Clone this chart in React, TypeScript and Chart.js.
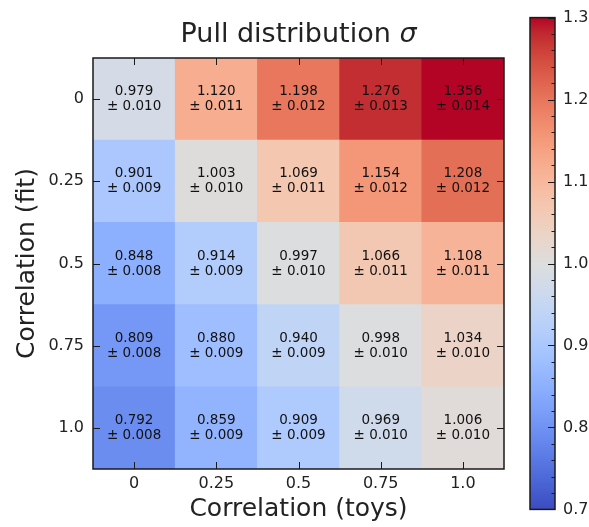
import React, { useEffect, useRef } from 'react';
import { Chart, registerables } from 'chart.js';

Chart.register(...registerables);

const W = 589;
const H = 527;
const FONT = '"DejaVu Sans", "Liberation Sans", sans-serif';
const TEXT = '#222222';

// ---------- data ----------
const toysLabels = ['0', '0.25', '0.5', '0.75', '1.0'];
const fitLabels = ['0', '0.25', '0.5', '0.75', '1.0']; // top to bottom

const sigmaFit0 = [0.979, 1.12, 1.198, 1.276, 1.356];
const sigmaFit025 = [0.901, 1.003, 1.069, 1.154, 1.208];
const sigmaFit05 = [0.848, 0.914, 0.997, 1.066, 1.108];
const sigmaFit075 = [0.809, 0.88, 0.94, 0.998, 1.034];
const sigmaFit1 = [0.792, 0.859, 0.909, 0.969, 1.006];

const errFit0 = [0.01, 0.011, 0.012, 0.013, 0.014];
const errFit025 = [0.009, 0.01, 0.011, 0.012, 0.012];
const errFit05 = [0.008, 0.009, 0.01, 0.011, 0.011];
const errFit075 = [0.008, 0.009, 0.009, 0.01, 0.01];
const errFit1 = [0.008, 0.009, 0.009, 0.01, 0.01];

const sigmaRows = [sigmaFit0, sigmaFit025, sigmaFit05, sigmaFit075, sigmaFit1];
const errRows = [errFit0, errFit025, errFit05, errFit075, errFit1];

const cbMin = 0.7;
const cbMax = 1.3;
const cbTicks = [0.7, 0.8, 0.9, 1.0, 1.1, 1.2, 1.3];

const titleText = 'Pull distribution ';
const titleSymbol = 'σ';
const xTitle = 'Correlation (toys)';
const yTitle = 'Correlation (fit)';

// coolwarm (Moreland) control points
const COOLWARM = [
  [59, 76, 192], [68, 90, 204], [77, 104, 215], [87, 117, 225], [98, 130, 234],
  [108, 142, 241], [119, 154, 247], [130, 165, 251], [141, 176, 254], [152, 185, 255],
  [163, 194, 255], [174, 201, 253], [184, 208, 249], [194, 213, 244], [204, 217, 238],
  [213, 219, 230], [221, 221, 221], [229, 216, 209], [236, 211, 197], [241, 204, 185],
  [245, 196, 173], [247, 187, 160], [247, 177, 148], [247, 166, 135], [244, 154, 123],
  [241, 141, 111], [236, 127, 99], [229, 112, 88], [222, 96, 77], [213, 80, 66],
  [203, 62, 56], [192, 40, 47], [180, 4, 38],
];

function coolwarm(t: number): string {
  const c = Math.max(0, Math.min(1, t));
  const x = c * (COOLWARM.length - 1);
  const i = Math.min(COOLWARM.length - 2, Math.floor(x));
  const f = x - i;
  const a = COOLWARM[i];
  const b = COOLWARM[i + 1];
  const r = Math.round(a[0] + (b[0] - a[0]) * f);
  const g = Math.round(a[1] + (b[1] - a[1]) * f);
  const bl = Math.round(a[2] + (b[2] - a[2]) * f);
  return `rgb(${r},${g},${bl})`;
}

const norm = (v: number) => (v - cbMin) / (cbMax - cbMin);

// ---------- plugins ----------
const heatmapDecor = {
  id: 'heatmapDecor',
  afterDatasetsDraw(chart: any) {
    const { ctx, chartArea } = chart;
    const { left, right, top, bottom } = chartArea;
    ctx.save();
    // cell annotations
    ctx.fillStyle = '#111';
    ctx.font = `13.5px ${FONT}`;
    ctx.textAlign = 'center';
    ctx.textBaseline = 'middle';
    chart.data.datasets.forEach((ds: any, di: number) => {
      const row = ds.rowIndex;
      const meta = chart.getDatasetMeta(di);
      meta.data.forEach((el: any, j: number) => {
        const cx = el.x;
        const cy = (el.y + el.base) / 2;
        ctx.fillText(sigmaRows[row][j].toFixed(3), cx, cy - 7.5);
        ctx.fillText('± ' + errRows[row][j].toFixed(3), cx, cy + 7.5);
      });
    });
    // inward ticks
    ctx.strokeStyle = '#1a1a1a';
    ctx.lineWidth = 1;
    const xs = chart.scales.x;
    const ys = chart.scales.y;
    const TL = 7;
    ctx.beginPath();
    xs.ticks.forEach((_: any, i: number) => {
      const px = Math.round(xs.getPixelForTick(i)) + 0.5;
      ctx.moveTo(px, bottom);
      ctx.lineTo(px, bottom - TL);
      ctx.moveTo(px, top);
      ctx.lineTo(px, top + TL);
    });
    ys.ticks.forEach((t: any) => {
      const py = Math.round(ys.getPixelForValue(t.value)) + 0.5;
      ctx.moveTo(left, py);
      ctx.lineTo(left + TL, py);
      ctx.moveTo(right, py);
      ctx.lineTo(right - TL, py);
    });
    ctx.stroke();
    // frame
    ctx.lineWidth = 1.5;
    ctx.strokeRect(left, top, right - left, bottom - top);
    // title
    const cx = (left + right) / 2;
    ctx.fillStyle = TEXT;
    ctx.textBaseline = 'alphabetic';
    ctx.textAlign = 'left';
    const fNorm = `27px ${FONT}`;
    const fIt = `italic 27px ${FONT}`;
    ctx.font = fNorm;
    const w1 = ctx.measureText(titleText).width;
    ctx.font = fIt;
    const w2 = ctx.measureText(titleSymbol).width;
    const x0 = cx - (w1 + w2) / 2;
    ctx.font = fNorm;
    ctx.fillText(titleText, x0, 42);
    ctx.font = fIt;
    ctx.fillText(titleSymbol, x0 + w1, 42);
    ctx.restore();
  },
};

const colorbarDecor = {
  id: 'colorbarDecor',
  afterDatasetsDraw(chart: any) {
    const { ctx, chartArea } = chart;
    const { left, right, top, bottom } = chartArea;
    const ys = chart.scales.y;
    ctx.save();
    ctx.strokeStyle = '#1a1a1a';
    ctx.lineWidth = 1;
    ctx.beginPath();
    const steps = Math.round((cbMax - cbMin) / 0.02);
    for (let k = 0; k <= steps; k++) {
      const v = cbMin + k * 0.02;
      const major = k % 5 === 0;
      const py = Math.round(ys.getPixelForValue(v)) + 0.5;
      ctx.moveTo(right, py);
      ctx.lineTo(right - (major ? 7 : 3.5), py);
    }
    ctx.stroke();
    ctx.lineWidth = 1.5;
    ctx.strokeRect(left, top, right - left, bottom - top);
    ctx.restore();
  },
};

function buildDatasets() {
  const ds: any[] = [];
  for (let r = fitLabels.length - 1; r >= 0; r--) {
    ds.push({
      label: fitLabels[r],
      rowIndex: r,
      data: toysLabels.map(() => 1),
      backgroundColor: sigmaRows[r].map((v) => coolwarm(norm(v))),
      borderWidth: 0,
      categoryPercentage: 1,
      barPercentage: 1,
    });
  }
  return ds;
}

export default function App() {
  const mainRef = useRef<HTMLCanvasElement | null>(null);
  const cbRef = useRef<HTMLCanvasElement | null>(null);

  useEffect(() => {
    if (!mainRef.current || !cbRef.current) return;
    const main = new Chart(mainRef.current, {
      type: 'bar',
      data: { labels: toysLabels, datasets: buildDatasets() },
      options: {
        animation: false,
        responsive: false,
        devicePixelRatio: 1,
        layout: { padding: { left: 0, top: 58, right: 85, bottom: 0 } },
        plugins: { legend: { display: false }, tooltip: { enabled: false }, title: { display: false } },
        scales: {
          x: {
            stacked: true,
            grid: { display: false, drawTicks: false },
            border: { display: false },
            ticks: { font: { family: FONT, size: 16 }, color: TEXT, padding: 5, maxRotation: 0, autoSkip: false },
            title: { display: true, text: xTitle, font: { family: FONT, size: 25 }, color: TEXT, padding: { top: 0, bottom: 3 } },
            afterFit: (s: any) => { s.height = 58; },
          },
          y: {
            type: 'linear',
            stacked: true,
            min: 0,
            max: fitLabels.length,
            grid: { display: false, drawTicks: false },
            border: { display: false },
            afterBuildTicks: (s: any) => { s.ticks = fitLabels.map((_, i) => ({ value: fitLabels.length - 0.5 - i })); },
            ticks: {
              font: { family: FONT, size: 16 }, color: TEXT, padding: 9, autoSkip: false,
              callback: (v: any) => fitLabels[Math.round(fitLabels.length - 0.5 - Number(v))],
            },
            title: { display: true, text: yTitle, font: { family: FONT, size: 25 }, color: TEXT, padding: { top: 12, bottom: 0 } },
            afterFit: (s: any) => { s.width = 93; },
          },
        },
      } as any,
      plugins: [heatmapDecor],
    });

    const cb = new Chart(cbRef.current, {
      type: 'bar',
      data: {
        labels: [''],
        datasets: [{
          data: [[cbMin, cbMax]],
          borderWidth: 0,
          categoryPercentage: 1,
          barPercentage: 1,
          backgroundColor: (c: any) => {
            const ch = c.chart;
            if (!ch.chartArea) return 'rgba(0,0,0,0)';
            const ys = ch.scales.y;
            const g = ch.ctx.createLinearGradient(0, ys.getPixelForValue(cbMin), 0, ys.getPixelForValue(cbMax));
            COOLWARM.forEach((col, i) => g.addColorStop(i / (COOLWARM.length - 1), `rgb(${col[0]},${col[1]},${col[2]})`));
            return g;
          },
        }],
      },
      options: {
        animation: false,
        responsive: false,
        devicePixelRatio: 1,
        layout: { padding: { left: 530, top: 13, right: 0, bottom: 13 } },
        plugins: { legend: { display: false }, tooltip: { enabled: false } },
        scales: {
          x: { display: false },
          y: {
            position: 'right',
            min: cbMin,
            max: cbMax,
            grid: { display: false, drawTicks: false },
            border: { display: false },
            afterBuildTicks: (s: any) => { s.ticks = cbTicks.map((v) => ({ value: v })); },
            ticks: { font: { family: FONT, size: 16 }, color: TEXT, padding: 8, autoSkip: false, callback: (v: any) => Number(v).toFixed(1) },
            afterFit: (s: any) => { s.width = 34; },
          },
        },
      } as any,
      plugins: [colorbarDecor],
    });

    return () => { main.destroy(); cb.destroy(); };
  }, []);

  return (
    <div style={{ position: 'fixed', left: 0, top: 0, width: W, height: H, background: '#fff' }}>
      <canvas ref={mainRef} width={W} height={H} style={{ position: 'absolute', left: 0, top: 0 }} />
      <canvas ref={cbRef} width={W} height={H} style={{ position: 'absolute', left: 0, top: 0 }} />
    </div>
  );
}
